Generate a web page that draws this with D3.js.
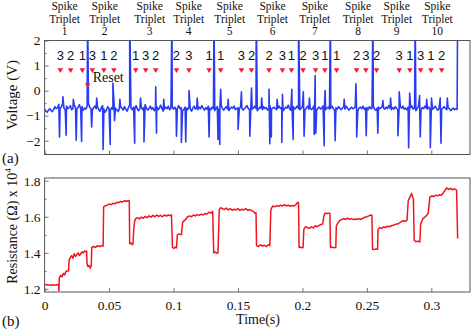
<!DOCTYPE html>
<html>
<head>
<meta charset="utf-8">
<script src="https://cdn.jsdelivr.net/npm/d3@7"></script>
<style>
  body { margin: 0; background: #fff; }
  svg { display: block; }
  .tick text { font-family: "Liberation Serif", serif; font-size: 13.5px; fill: #111; }
  .tick line { stroke: #777; }
</style>
</head>
<body>
<script>
// ---- data (time in ms) ----
// voltage baseline, one value per ms from 0 to 320
var voltBase = [
  -0.74,-0.82,-0.86,-0.78,-0.72,-0.80,-0.84,-0.76,-0.64,-0.72,-0.68,-0.55,-0.70,-0.66,-0.52,-0.70,-0.76,-0.62,-0.72,-0.68,
  -0.60,-0.76,-0.72,-0.58,-0.68,-0.74,-0.66,-0.56,-0.72,-0.64,-0.78,-0.70,-0.74,-0.62,-0.50,-0.66,-0.72,-0.80,-0.68,-0.62,
  -0.72,-0.64,-0.76,-0.82,-0.68,-0.60,-0.74,-0.86,-0.78,-0.64,-0.72,-0.80,-0.68,-0.74,-0.62,-0.70,-0.76,-0.84,-0.72,-0.66,
  -0.70,-0.78,-0.64,-0.74,-0.82,-0.68,-0.58,-0.70,-0.76,-0.66,-0.72,-0.60,-0.74,-0.80,-0.70,-0.64,-0.76,-0.68,-0.56,-0.70,
  -0.78,-0.72,-0.62,-0.74,-0.68,-0.80,-0.70,-0.64,-0.76,-0.70,-0.58,-0.72,-0.82,-0.74,-0.66,-0.72,-0.62,-0.76,-0.70,-0.64,
  -0.74,-0.66,-0.78,-0.70,-0.60,-0.72,-0.68,-0.80,-0.74,-0.66,-0.70,-0.76,-0.64,-0.72,-0.82,-0.70,-0.62,-0.74,-0.68,-0.76,
  -0.66,-0.72,-0.60,-0.70,-0.78,-0.68,-0.74,-0.62,-0.70,-0.76,-0.66,-0.72,-0.80,-0.70,-0.64,-0.74,-0.68,-0.58,-0.72,-0.78,
  -0.70,-0.64,-0.74,-0.80,-0.72,-0.66,-0.70,-0.62,-0.76,-0.72,-0.68,-0.74,-0.64,-0.70,-0.78,-0.72,-0.66,-0.60,-0.72,-0.76,
  -0.68,-0.74,-0.70,-0.62,-0.72,-0.80,-0.74,-0.66,-0.70,-0.76,-0.64,-0.72,-0.68,-0.78,-0.70,-0.62,-0.74,-0.70,-0.66,-0.72,
  -0.76,-0.70,-0.62,-0.72,-0.68,-0.80,-0.74,-0.66,-0.70,-0.58,-0.72,-0.78,-0.70,-0.64,-0.74,-0.68,-0.62,-0.72,-0.76,-0.70,
  -0.64,-0.72,-0.78,-0.70,-0.62,-0.74,-0.68,-0.76,-0.70,-0.60,-0.72,-0.80,-0.70,-0.66,-0.74,-0.68,-0.62,-0.72,-0.76,-0.70,
  -0.66,-0.74,-0.70,-0.62,-0.72,-0.78,-0.68,-0.74,-0.64,-0.70,-0.76,-0.70,-0.66,-0.74,-0.62,-0.70,-0.78,-0.72,-0.66,-0.72,
  -0.70,-0.64,-0.74,-0.80,-0.70,-0.66,-0.72,-0.62,-0.74,-0.70,-0.68,-0.76,-0.64,-0.72,-0.70,-0.62,-0.74,-0.78,-0.70,-0.66,
  -0.72,-0.68,-0.62,-0.70,-0.74,-0.66,-0.72,-0.60,-0.70,-0.76,-0.68,-0.74,-0.64,-0.70,-0.78,-0.72,-0.66,-0.70,-0.62,-0.74,
  -0.70,-0.76,-0.66,-0.72,-0.68,-0.62,-0.74,-0.70,-0.80,-0.72,-0.64,-0.70,-0.76,-0.68,-0.72,-0.62,-0.70,-0.74,-0.66,-0.72,
  -0.68,-0.74,-0.70,-0.62,-0.72,-0.78,-0.70,-0.66,-0.74,-0.70,-0.64,-0.72,-0.76,-0.68,-0.72,-0.80,-0.74,-0.70,-0.76,-0.72,
  -0.74
];

// spikes in the voltage trace [ms, V]
var voltSpikes = [
  [11.6,-1.85],[14.2,-0.25],[16.7,-1.78],[22.3,-0.35],[24.5,-1.98],[28.7,-2.03],[33.4,3.2],[36.5,-1.45],
  [40.4,-0.3],[45.4,-2.35],[50.9,-2.15],[53.0,0.3],[54.2,-1.2],[58.4,-0.35],[66.0,3.2],[69.9,-2.1],
  [74.4,-0.3],[77.1,-2.05],[86.2,0.15],[86.8,-1.7],[92.4,-0.35],[98.8,3.2],[102.3,-1.82],[106.1,-2.07],
  [109.5,-2.05],[112.0,0.0],[118.4,-0.3],[127.6,-1.85],[131.4,3.2],[134.5,-1.95],[135.9,-2.15],[136.6,0.05],
  [142.4,-0.35],[150.1,-1.55],[152.7,-0.05],[159.2,-1.82],[160.5,0.1],[164.2,3.2],[168.4,-0.3],[174.1,0.05],
  [174.7,-2.12],[175.9,-1.85],[180.4,-0.35],[184.0,-2.07],[184.5,-0.15],[191.8,0.05],[192.8,-1.95],[197.0,3.2],
  [200.7,-0.05],[201.3,-1.82],[205.4,-0.3],[209.1,-1.75],[209.9,0.6],[210.4,-1.7],[216.9,-2.2],[217.6,0.0],
  [221.7,3.2],[225.4,-2.0],[232.4,-0.35],[241.5,0.27],[242.1,-1.85],[249.5,-1.8],[254.7,3.2],[258.5,-1.7],
  [262.4,-0.4],[268.4,-0.3],[274.1,-1.8],[275.1,-0.05],[282.4,-2.28],[283.2,-0.1],[287.5,3.2],[290.9,-0.2],
  [291.4,-1.85],[296.4,-0.35],[299.2,-2.28],[300.1,-0.3],[306.9,-0.3],[307.5,-2.1],[312.4,-0.3],[320.4,3.2]
];

// resistance trace [ms, R x 10^4 ohm]
var resistance = [
  [0,1.222],[2,1.224],[4,1.220],[6,1.223],[8,1.221],[10,1.224],[10.9,1.222],[11.1,1.19],[11.4,1.262],[12.5,1.275],
  [13.5,1.268],[14.5,1.285],[15.5,1.278],[16.5,1.296],[17.3,1.30],[18.6,1.30],[19.0,1.36],[20,1.375],[21,1.385],[22,1.37],
  [23,1.395],[24,1.38],[25,1.39],[26,1.40],[27,1.385],[28,1.395],[29,1.405],[30,1.40],[31,1.41],[32,1.405],
  [32.6,1.41],[32.9,1.34],[33.5,1.325],[34.5,1.33],[35.5,1.315],[36.2,1.33],[36.6,1.43],[38,1.435],[39.5,1.43],[41,1.44],
  [42.5,1.435],[44,1.44],[45.4,1.438],[45.8,1.655],[47,1.66],[48.5,1.665],[50,1.67],[51.5,1.668],[53,1.675],[54.5,1.672],
  [56,1.68],[57.5,1.678],[59,1.685],[60.5,1.682],[62,1.69],[63.5,1.685],[65,1.69],[65.7,1.688],[66.0,1.45],[67,1.455],
  [68,1.445],[68.6,1.45],[69.2,1.54],[70.0,1.58],[70.7,1.59],[72,1.595],[73.5,1.588],[75,1.598],[76.5,1.592],[78,1.602],
  [79.5,1.595],[81,1.605],[82.5,1.598],[84,1.608],[85.5,1.60],[87,1.61],[88.5,1.602],[90,1.608],[91.5,1.60],[93,1.61],
  [94.5,1.604],[96,1.61],[97.5,1.606],[98.4,1.61],[99.2,1.43],[100.5,1.425],[101.5,1.432],[102.3,1.428],[103.0,1.50],[104.5,1.505],
  [106.1,1.50],[107.1,1.57],[108.5,1.58],[110,1.59],[111,1.60],[112.5,1.605],[114,1.60],[115.5,1.61],[117,1.605],[118.5,1.612],
  [120,1.608],[121.5,1.615],[123,1.61],[124.5,1.618],[126,1.615],[127.5,1.625],[129,1.62],[130.4,1.63],[131.2,1.40],[132.5,1.405],
  [133.5,1.398],[134.5,1.40],[135.5,1.64],[136.5,1.65],[138,1.645],[139.5,1.64],[141,1.648],[142.5,1.638],[144,1.645],[145.5,1.636],
  [147,1.642],[148.5,1.638],[150,1.645],[151.5,1.635],[153,1.642],[154.5,1.638],[156,1.645],[157.5,1.636],[159,1.64],[160.5,1.635],
  [162,1.63],[163,1.62],[164.0,1.622],[164.4,1.44],[166,1.435],[167.5,1.445],[169,1.438],[170.5,1.442],[172,1.435],[173.5,1.445],
  [174.7,1.44],[175.5,1.64],[177,1.66],[178.5,1.655],[180,1.662],[181.5,1.658],[183,1.665],[184.5,1.66],[186,1.668],[187.5,1.66],
  [189,1.665],[190.5,1.658],[192,1.662],[193.5,1.66],[195,1.668],[196.4,1.68],[197.0,1.675],[197.4,1.43],[198.5,1.432],[199.5,1.428],
  [200.5,1.43],[201.1,1.53],[202.5,1.545],[204,1.54],[205.5,1.535],[207,1.545],[208.5,1.538],[210,1.55],[211.5,1.545],[213,1.552],
  [214.5,1.558],[215.8,1.56],[216.5,1.60],[217.4,1.62],[219,1.618],[220.5,1.62],[221.3,1.62],[221.8,1.43],[223,1.432],[224.5,1.428],
  [225.9,1.43],[226.3,1.55],[227.5,1.565],[229,1.58],[230.5,1.585],[232,1.59],[233.5,1.585],[235,1.592],[236.5,1.586],[238,1.59],
  [239.5,1.584],[241,1.588],[242.5,1.585],[244,1.59],[245.5,1.585],[247,1.592],[248.5,1.598],[250,1.60],[251.5,1.605],[253,1.61],
  [253.9,1.608],[254.4,1.42],[255.5,1.418],[257,1.422],[258.3,1.42],[258.7,1.53],[260,1.54],[261.5,1.535],[263,1.545],[264.5,1.54],
  [266,1.548],[267.5,1.545],[269,1.55],[270.5,1.553],[272,1.558],[273.5,1.56],[275,1.565],[276.5,1.572],[278,1.578],[279.5,1.575],
  [281.1,1.58],[282.1,1.69],[283.5,1.71],[284.7,1.73],[285.5,1.71],[286.1,1.70],[286.7,1.47],[288,1.462],[289.5,1.465],[291.1,1.46],
  [291.7,1.56],[293.5,1.59],[295,1.598],[296.5,1.61],[297.6,1.62],[298.9,1.71],[300.5,1.715],[302,1.712],[303.5,1.72],[305,1.716],
  [306.5,1.722],[308,1.72],[309.5,1.735],[311,1.75],[311.9,1.76],[313.5,1.752],[315,1.758],[316.5,1.75],[318,1.755],[319.6,1.748],
  [320.4,1.48]
];

// spike order labels and their marker times (ms)
var spikeDigits = ["3","2","1","3","1","2","1","3","2","2","3","1","1","3","2",
                   "2","3","1","2","3","1","1","2","3","2","3","1","3","1","2"];
var markerTimes = [12.2,20.2,29.3,37.0,46.0,53.8,70.7,78.4,86.2,102.3,112.0,127.6,136.6,152.7,160.5,
                   174.1,184.5,191.5,200.5,210.2,217.4,226.5,242.0,249.2,257.5,275.1,283.4,291.7,299.7,308.0];
var tripletNames = ["1","2","3","4","5","6","7","8","9","10"];
var tripletCenters = [15.5,46.6,81.5,111.8,143.6,176.8,209.6,243.2,273.1,304.6];
var resetTime = 33.4;

var voltTicks = [-2, -1, 0, 1, 2];
var voltMinor = [-2.5, -1.5, -0.5, 0.5, 1.5];
var resTicks = [1.2, 1.4, 1.6, 1.8];
var resMinor = [1.3, 1.5, 1.7];
var timeTicks = [0, 0.05, 0.1, 0.15, 0.2, 0.25, 0.3];

// ---- layout ----
var width = 472, height = 331;
var left = 44.6, right = 470;
var topA = 40.5, botA = 154.5;
var topB = 178, botB = 292;

var svg = d3.select("body").append("svg").attr("width", width).attr("height", height);

var x = d3.scaleLinear().domain([0, 0.33]).range([left, right]);
var yV = d3.scaleLinear().domain([-2.55, 2]).range([botA, topA]);
var yR = d3.scaleLinear().domain([1.183, 1.815]).range([botB, topB]);

svg.append("clipPath").attr("id", "clipA")
  .append("rect").attr("x", left).attr("y", topA).attr("width", right - left).attr("height", botA - topA);
svg.append("clipPath").attr("id", "clipB")
  .append("rect").attr("x", left).attr("y", topB).attr("width", right - left).attr("height", botB - topB);

function drawAxes(y, top, bot, ticks, minor, showX) {
  var g = svg.append("g");
  g.append("g").attr("transform", "translate(" + left + ",0)")
    .call(d3.axisLeft(y).tickValues(ticks).tickSize(-4).tickPadding(4).tickFormat(d3.format("")))
    .call(function (a) { a.select(".domain").remove(); });
  g.append("g").attr("transform", "translate(" + left + ",0)")
    .call(d3.axisLeft(y).tickValues(minor).tickSize(-2).tickFormat(""))
    .call(function (a) { a.select(".domain").remove(); });
  var xa = d3.axisBottom(x).tickValues(timeTicks).tickSize(-4).tickPadding(8);
  if (!showX) xa.tickFormat("");
  else xa.tickFormat(function (d) { return d === 0 ? "0" : d3.format("")(+d.toFixed(2)); });
  g.append("g").attr("transform", "translate(0," + bot + ")")
    .call(xa)
    .call(function (a) { a.select(".domain").remove(); });
  g.append("rect")
    .attr("x", left).attr("y", top).attr("width", right - left).attr("height", bot - top)
    .attr("fill", "none").attr("stroke", "#555").attr("stroke-width", 1);
}

drawAxes(yV, topA, botA, voltTicks, voltMinor, false);
drawAxes(yR, topB, botB, resTicks, resMinor, true);

// ---- voltage trace ----
var voltData = voltBase.map(function (v, i) { return [i, v]; })
  .concat(voltSpikes)
  .sort(function (a, b) { return a[0] - b[0]; });

var lineV = d3.line()
  .x(function (d) { return x(d[0] / 1000); })
  .y(function (d) { return yV(d[1]); });

svg.append("path")
  .datum(voltData)
  .attr("clip-path", "url(#clipA)")
  .attr("d", lineV)
  .attr("fill", "none")
  .attr("stroke", "#2a3cf2")
  .attr("stroke-width", 1.6)
  .attr("stroke-linejoin", "round");

// ---- resistance trace ----
var lineR = d3.line()
  .x(function (d) { return x(d[0] / 1000); })
  .y(function (d) { return yR(d[1]); });

svg.append("path")
  .datum(resistance)
  .attr("clip-path", "url(#clipB)")
  .attr("d", lineR)
  .attr("fill", "none")
  .attr("stroke", "#f0141e")
  .attr("stroke-width", 1.5)
  .attr("stroke-linejoin", "round");

// ---- spike order digits and markers ----
var tri = d3.symbol().type(d3.symbolTriangle).size(13);

svg.append("g").selectAll("text")
  .data(spikeDigits)
  .enter().append("text")
  .attr("x", function (d, i) { return x(markerTimes[i] / 1000); })
  .attr("y", yV(1.22))
  .attr("text-anchor", "middle")
  .style("font-family", "'Liberation Sans', Arial, sans-serif")
  .style("font-size", "13px")
  .attr("fill", "#111")
  .text(function (d) { return d; });

svg.append("g").selectAll("path")
  .data(markerTimes)
  .enter().append("path")
  .attr("d", tri)
  .attr("transform", function (d) { return "translate(" + x(d / 1000) + "," + yV(0.83) + ") rotate(180)"; })
  .attr("fill", "#ee1c2c");

svg.append("path")
  .attr("d", tri)
  .attr("transform", "translate(" + x(resetTime / 1000) + "," + yV(0.23) + ") rotate(180)")
  .attr("fill", "#ee1c2c");

svg.append("text")
  .attr("x", x(resetTime / 1000) + 5)
  .attr("y", yV(0.33))
  .style("font-family", "'Liberation Serif', serif")
  .style("font-size", "14px")
  .attr("fill", "#111")
  .text("Reset");

// ---- triplet headers ----
var heads = svg.append("g").selectAll("text")
  .data(tripletNames)
  .enter().append("text")
  .attr("text-anchor", "middle")
  .style("font-family", "'Liberation Serif', serif")
  .style("font-size", "11.5px")
  .attr("fill", "#111");
heads.append("tspan").attr("x", function (d, i) { return x(tripletCenters[i] / 1000); }).attr("y", 10).text("Spike");
heads.append("tspan").attr("x", function (d, i) { return x(tripletCenters[i] / 1000); }).attr("y", 22.5).text("Triplet");
heads.append("tspan").attr("x", function (d, i) { return x(tripletCenters[i] / 1000); }).attr("y", 35).text(function (d) { return d; });

// ---- axis titles and panel letters ----
var serif = "'Liberation Serif', serif";
svg.append("text")
  .attr("transform", "translate(17,95) rotate(-90)")
  .attr("text-anchor", "middle")
  .style("font-family", serif).style("font-size", "15px").attr("fill", "#111")
  .text("Voltage (V)");

var rt = svg.append("text")
  .attr("transform", "translate(17,226) rotate(-90)")
  .attr("text-anchor", "middle")
  .style("font-family", serif).style("font-size", "14px").attr("fill", "#111");
rt.append("tspan").text("Resistance (\u03A9) x 10");
rt.append("tspan").attr("dy", -6).style("font-size", "9px").text("4");

svg.append("text")
  .attr("x", 258).attr("y", 324)
  .attr("text-anchor", "middle")
  .style("font-family", serif).style("font-size", "14px").attr("fill", "#111")
  .text("Time(s)");

svg.append("text").attr("x", 2).attr("y", 163)
  .style("font-family", serif).style("font-size", "15px").attr("fill", "#111").text("(a)");
svg.append("text").attr("x", 2).attr("y", 326)
  .style("font-family", serif).style("font-size", "15px").attr("fill", "#111").text("(b)");
</script>
</body>
</html>
